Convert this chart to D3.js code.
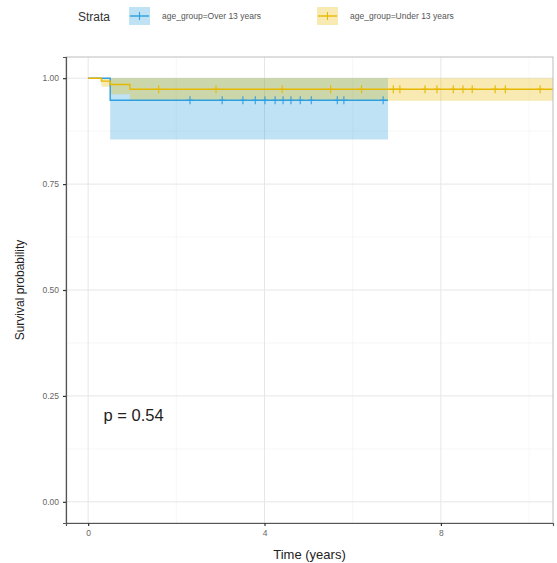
<!DOCTYPE html>
<html>
<head>
<meta charset="utf-8">
<script src="https://cdn.jsdelivr.net/npm/d3@7"></script>
<style>
  body { margin: 0; background: #fff; }
  text { font-family: "Liberation Sans", Arial, sans-serif; }
</style>
</head>
<body>
<div id="chart"></div>
<script>
// survival data
var strata = ["age_group=Over 13 years", "age_group=Under 13 years"];
var colors = ["#2E9FDF", "#E7B800"];

var overTime = [0, 0.5, 6.8];
var overSurv = [1, 0.948, 0.948];
var overLower = [1, 0.855, 0.855];
var overUpper = [1, 1, 1];
var overCensor = [2.31, 3.04, 3.51, 3.79, 4.01, 4.24, 4.42, 4.60, 4.81, 5.06, 5.65, 5.80, 6.69];

var underTime = [0, 0.3, 0.5, 0.95, 10.6];
var underSurv = [1, 0.993, 0.985, 0.974, 0.974];
var underLower = [1, 0.98, 0.962, 0.947, 0.947];
var underUpper = [1, 1, 1, 1, 1];
var underCensor = [1.6, 2.9, 4.4, 5.5, 6.2, 6.92, 7.07, 7.64, 7.91, 8.28, 8.50, 8.71, 9.23, 9.46, 10.25];

var xTicks = [0, 4, 8];
var xMinor = [2, 6, 10];
var yTicks = [0, 0.25, 0.5, 0.75, 1];
var yMinor = [0.125, 0.375, 0.625, 0.875];
var pLabel = "p = 0.54";

var svgWidth = 557, svgHeight = 563;
var margin = { top: 57, right: 4, bottom: 40, left: 66 };
var width = svgWidth - margin.left - margin.right;
var height = svgHeight - margin.top - margin.bottom;

var svg = d3.select("#chart").append("svg")
  .attr("width", svgWidth)
  .attr("height", svgHeight);

var xMax = 10.04;
var x = d3.scaleLinear().domain([-0.05 * xMax, 1.05 * xMax]).range([0, width]);
var y = d3.scaleLinear().domain([-0.05, 1.05]).range([height, 0]);

var g = svg.append("g").attr("transform", `translate(${margin.left}, ${margin.top})`);

g.append("clipPath").attr("id", "clip").append("rect")
  .attr("width", width).attr("height", height);

// grid lines
g.selectAll(".ygridMinor").data(yMinor).enter().append("line")
  .attr("x1", 0).attr("x2", width)
  .attr("y1", d => y(d)).attr("y2", d => y(d))
  .attr("stroke", "#f2f2f2").attr("stroke-width", 0.6);
g.selectAll(".xgridMinor").data(xMinor).enter().append("line")
  .attr("y1", 0).attr("y2", height)
  .attr("x1", d => x(d)).attr("x2", d => x(d))
  .attr("stroke", "#f2f2f2").attr("stroke-width", 0.6);
g.selectAll(".ygrid").data(yTicks).enter().append("line")
  .attr("x1", 0).attr("x2", width)
  .attr("y1", d => y(d)).attr("y2", d => y(d))
  .attr("stroke", "#e6e6e6").attr("stroke-width", 1);
g.selectAll(".xgrid").data(xTicks).enter().append("line")
  .attr("y1", 0).attr("y2", height)
  .attr("x1", d => x(d)).attr("x2", d => x(d))
  .attr("stroke", "#e6e6e6").attr("stroke-width", 1);

// build series
function series(t, s, lo, hi) {
  return t.map((d, i) => ({ t: d, s: s[i], lo: lo[i], hi: hi[i] }));
}
var groups = [
  { pts: series(overTime, overSurv, overLower, overUpper), censor: overCensor },
  { pts: series(underTime, underSurv, underLower, underUpper), censor: underCensor }
];

function survAt(pts, t) {
  var v = pts[0].s;
  pts.forEach(p => { if (p.t <= t) v = p.s; });
  return v;
}

var area = d3.area().curve(d3.curveStepAfter)
  .x(d => x(d.t)).y0(d => y(d.lo)).y1(d => y(d.hi));
var line = d3.line().curve(d3.curveStepAfter)
  .x(d => x(d.t)).y(d => y(d.s));

var plot = g.append("g").attr("clip-path", "url(#clip)");

// ribbons
groups.forEach((grp, i) => {
  plot.append("path").datum(grp.pts)
    .attr("d", area)
    .attr("fill", colors[i]).attr("fill-opacity", 0.3);
});

// lines and censor marks
groups.forEach((grp, i) => {
  plot.append("path").datum(grp.pts)
    .attr("d", line)
    .attr("fill", "none").attr("stroke", colors[i]).attr("stroke-width", 1.4);
  plot.selectAll(".c" + i).data(grp.censor).enter().append("path")
    .attr("d", d => {
      var cx = x(d), cy = y(survAt(grp.pts, d));
      return `M${cx - 3.5},${cy}H${cx + 3.5}M${cx},${cy - 4}V${cy + 4}`;
    })
    .attr("stroke", colors[i]).attr("stroke-width", 1.1);
});

// panel border
g.append("rect").attr("width", width).attr("height", height)
  .attr("fill", "none").attr("stroke", "#bdbdbd").attr("stroke-width", 1);

// axes
var bottomAxis = d3.axisBottom(x).tickValues(xTicks).tickSize(3).tickPadding(4);
var leftAxis = d3.axisLeft(y).tickValues(yTicks).tickSize(3).tickPadding(4).tickFormat(d3.format(".2f"));

var xa = g.append("g").attr("transform", `translate(0, ${height})`).call(bottomAxis);
var ya = g.append("g").call(leftAxis);
[xa, ya].forEach(a => {
  a.select(".domain").attr("stroke", "#555").attr("stroke-width", 1.2);
  a.selectAll(".tick line").attr("stroke", "#333").attr("stroke-width", 1.2);
  a.selectAll(".tick text").attr("fill", "#666").attr("font-size", 8.5)
    .attr("font-family", "Liberation Sans, Arial, sans-serif");
});

// p value
g.append("text")
  .attr("x", x(0.35)).attr("y", y(0.19))
  .attr("font-size", 16.5).attr("fill", "#222")
  .text(pLabel);

// axis titles
svg.append("text")
  .attr("transform", `translate(24, ${margin.top + height / 2}) rotate(-90)`)
  .attr("text-anchor", "middle")
  .attr("font-size", 12).attr("fill", "#222")
  .text("Survival probability");
svg.append("text")
  .attr("x", margin.left + width / 2).attr("y", 559)
  .attr("text-anchor", "middle")
  .attr("font-size", 13).attr("fill", "#222")
  .text("Time (years)");

// legend
var legend = svg.append("g");
legend.append("text").attr("x", 78).attr("y", 21)
  .attr("font-size", 12).attr("fill", "#333").text("Strata");
var keyX = [129, 317];
strata.forEach((s, i) => {
  var kx = keyX[i], ky = 7, kw = 21, kh = 18;
  legend.append("rect").attr("x", kx).attr("y", ky).attr("width", kw).attr("height", kh)
    .attr("fill", colors[i]).attr("fill-opacity", 0.3);
  legend.append("line").attr("x1", kx + 1).attr("x2", kx + kw - 1)
    .attr("y1", ky + kh / 2).attr("y2", ky + kh / 2)
    .attr("stroke", colors[i]).attr("stroke-width", 1.4);
  legend.append("line").attr("x1", kx + kw / 2).attr("x2", kx + kw / 2)
    .attr("y1", ky + kh / 2 - 4).attr("y2", ky + kh / 2 + 4)
    .attr("stroke", colors[i]).attr("stroke-width", 1.1);
  legend.append("text").attr("x", kx + kw + 12).attr("y", ky + kh / 2 + 3)
    .attr("font-size", 8.5).attr("fill", "#555").text(s);
});
</script>
</body>
</html>
